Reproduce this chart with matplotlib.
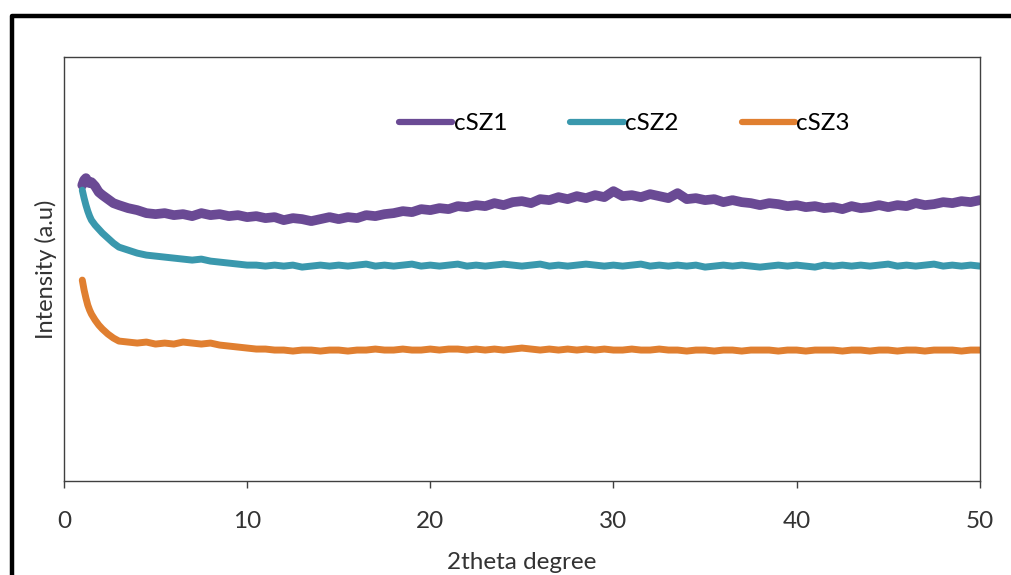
import numpy as np
from matplotlib import pyplot as plt
from matplotlib.lines import Line2D

# 2theta sampling: fine steps over the low-angle drop, then every 0.5 degree
two_theta_low = [1.0, 1.1, 1.2, 1.3, 1.4, 1.5, 1.7, 1.9, 2.1, 2.4, 2.7, 3.0]
two_theta_high = list(np.arange(3.5, 50.01, 0.5))
two_theta = two_theta_low + two_theta_high

# intensities (arbitrary units)
csz1 = [296, 301, 303, 300, 298, 299, 295, 289, 286, 282, 278, 276,
        273, 271, 268, 267, 268, 266, 267, 265, 268, 266, 267, 265,
        266, 264, 265, 263, 264, 261, 263, 262, 260, 262, 264, 262,
        264, 263, 266, 265, 267, 268, 270, 269, 272, 271, 273, 272,
        275, 274, 276, 275, 278, 276, 279, 280, 278, 282, 281, 284,
        282, 285, 283, 286, 284, 290, 285, 286, 284, 287, 285, 283,
        288, 282, 283, 281, 282, 279, 281, 279, 278, 276, 278, 277,
        275, 276, 274, 275, 273, 274, 272, 275, 273, 274, 276, 274,
        276, 275, 278, 276, 277, 279, 278, 280, 279, 281]
csz2 = [291, 283, 276, 270, 265, 261, 256, 252, 248, 243, 238, 234,
        231, 228, 226, 225, 224, 223, 222, 221, 222, 220, 219, 218,
        217, 216, 216, 215, 216, 215, 216, 214, 215, 216, 215, 216,
        215, 216, 217, 215, 216, 215, 216, 217, 215, 216, 215, 216,
        217, 215, 216, 215, 216, 217, 216, 215, 216, 217, 215, 216,
        215, 216, 217, 216, 215, 216, 215, 216, 217, 215, 216, 215,
        216, 215, 216, 214, 215, 216, 215, 216, 215, 214, 215, 216,
        215, 216, 215, 214, 216, 215, 216, 215, 216, 215, 216, 217,
        215, 216, 215, 216, 217, 215, 216, 215, 216, 215]
csz3 = [201, 191, 183, 176, 171, 167, 161, 156, 152, 147, 143, 140,
        139, 138, 139, 137, 138, 137, 139, 138, 137, 138, 136, 135,
        134, 133, 132, 132, 131, 131, 130, 131, 131, 130, 131, 131,
        130, 131, 131, 132, 131, 131, 132, 131, 131, 132, 131, 132,
        132, 131, 132, 131, 132, 131, 132, 133, 132, 131, 132, 131,
        132, 131, 132, 131, 132, 131, 131, 132, 131, 131, 132, 131,
        131, 130, 131, 131, 130, 131, 131, 130, 131, 131, 131, 130,
        131, 131, 130, 131, 131, 131, 130, 131, 131, 130, 131, 131,
        130, 131, 131, 130, 131, 131, 131, 130, 131, 131]

names = ["cSZ1", "cSZ2", "cSZ3"]
colors = ["#6a4a94", "#3a98ad", "#e07f30"]
widths = [7.0, 5.0, 5.0]
x_ticks = [0, 10, 20, 30, 40, 50]

plt.rcParams["font.family"] = ["Lato", "DejaVu Sans"]

fig = plt.figure(figsize=(10.12, 5.75), dpi=100)
ax = fig.add_axes([0.0632, 0.1635, 0.905, 0.737])

for series, name, col, lw in zip([csz1, csz2, csz3], names, colors, widths):
    ax.plot(two_theta, series, color=col, lw=lw, label=name,
            solid_joinstyle="round", solid_capstyle="round")

ax.set_xlim(0, 50)
ax.set_ylim(0, 424)
ax.set_xticks(x_ticks)
ax.set_yticks([])
ax.tick_params(axis="x", direction="out", length=5, width=1, color="#404040",
               pad=16.5, labelsize=17.5, labelcolor="#333333")
for sp in ax.spines.values():
    sp.set_color("#404040")
    sp.set_linewidth(1)

ax.set_xlabel("2theta degree", fontsize=17.5, color="#333333", labelpad=14.5)
ax.set_ylabel("Intensity (a.u)", fontsize=17, color="#333333", labelpad=5)

leg = ax.legend(loc="center", bbox_to_anchor=(0.612, 0.843), ncol=3, frameon=False,
                fontsize=17.5, handlelength=2.2, handletextpad=0.05, columnspacing=2.6)
for h in leg.get_lines():
    h.set_linewidth(4.5)

# outer frame around the figure (left and top edges)
fig.add_artist(Line2D([0.0114, 0.0114, 1.0], [0.0, 0.973, 0.973],
                      transform=fig.transFigure, color="black", lw=3.2))

fig.savefig("out.png", dpi=100)
